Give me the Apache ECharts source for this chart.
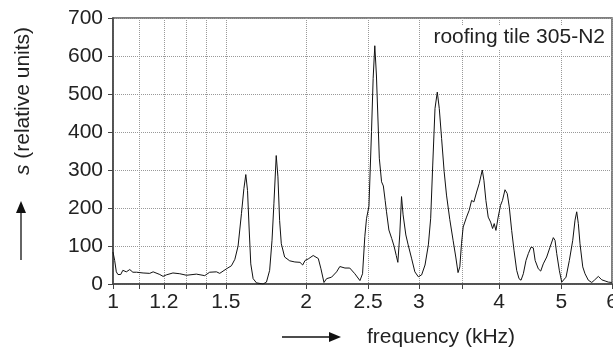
<!DOCTYPE html>
<html>
<head>
<meta charset="utf-8">
<script src="https://cdn.jsdelivr.net/npm/echarts@6/dist/echarts.min.js"></script>
<style>
  html, body { margin: 0; padding: 0; background: #fff; }
  #chart { width: 613px; height: 349px; }
</style>
</head>
<body>
<div id="chart"></div>
<script>
// frequency in kHz
const freq = [
  1.000, 1.006, 1.012, 1.018, 1.028, 1.036, 1.049, 1.062, 1.074, 1.088,
  1.114, 1.141, 1.155, 1.183, 1.197, 1.211, 1.240, 1.271, 1.302, 1.349,
  1.390, 1.415, 1.450, 1.467, 1.503, 1.530, 1.549, 1.567, 1.586, 1.600,
  1.611, 1.621, 1.630, 1.640, 1.654, 1.674, 1.714, 1.735, 1.755, 1.770,
  1.782, 1.797, 1.808, 1.819, 1.830, 1.852, 1.886, 1.921, 1.957, 1.976,
  1.993, 2.016, 2.052, 2.090, 2.110, 2.133, 2.153, 2.192, 2.232, 2.258,
  2.300, 2.340, 2.383, 2.427, 2.450, 2.470, 2.485, 2.507, 2.530, 2.545,
  2.560, 2.575, 2.602, 2.623, 2.640, 2.657, 2.670, 2.693, 2.720, 2.743,
  2.765, 2.781, 2.800, 2.818, 2.834, 2.862, 2.886, 2.921, 2.956, 2.993,
  3.029, 3.066, 3.103, 3.129, 3.152, 3.178, 3.204, 3.227, 3.254, 3.284,
  3.312, 3.351, 3.391, 3.424, 3.452, 3.474, 3.495, 3.516, 3.559, 3.593,
  3.624, 3.654, 3.690, 3.724, 3.766, 3.788, 3.815, 3.847, 3.880, 3.908,
  3.931, 3.955, 3.987, 4.021, 4.049, 4.086, 4.119, 4.149, 4.185, 4.220,
  4.261, 4.297, 4.328, 4.364, 4.406, 4.443, 4.486, 4.523, 4.553, 4.605,
  4.645, 4.688, 4.746, 4.803, 4.860, 4.890, 4.920, 4.966, 5.009, 5.038,
  5.087, 5.148, 5.211, 5.254, 5.286, 5.317, 5.349, 5.402, 5.446, 5.511,
  5.579, 5.632, 5.713, 5.783, 5.853, 5.922, 5.995
];
// s (relative units)
const amp = [
  84, 62, 32, 25, 25, 36, 32, 38, 31, 31,
  29, 28, 32, 25, 20, 24, 29, 27, 23, 26,
  22, 31, 32, 28, 40, 48, 65, 100, 185, 251,
  288, 246, 150, 53, 14, 3, 0, 5, 36, 115,
  211, 338, 282, 167, 106, 71, 61, 58, 57, 50,
  62, 66, 75, 67, 40, 4, 14, 18, 32, 46,
  42, 42, 27, 9, 27, 125, 172, 205, 401, 541,
  627, 550, 331, 269, 258, 220, 190, 142, 120, 100,
  75, 57, 129, 230, 182, 129, 103, 68, 32, 19,
  24, 50, 103, 173, 313, 462, 505, 462, 383, 296,
  234, 170, 115, 71, 30, 45, 106, 150, 176, 194,
  220, 216, 242, 264, 300, 273, 220, 176, 163, 146,
  159, 141, 176, 207, 220, 248, 238, 203, 141, 89,
  36, 14, 10, 27, 62, 80, 97, 95, 62, 40,
  34, 53, 71, 97, 122, 115, 80, 36, 5, 3,
  18, 62, 115, 168, 190, 159, 106, 45, 27, 10,
  4, 10, 20, 11, 8, 5, 4
];

const xTicks = [1, 1.1, 1.2, 1.3, 1.4, 1.5, 2, 2.5, 3, 3.5, 4, 5, 6];
const xLabels = [1, 1.2, 1.5, 2, 2.5, 3, 4, 5, 6];

const chart = echarts.init(document.getElementById('chart'), null, { renderer: 'canvas' });

const FONT = 'Liberation Sans, Arial, sans-serif';
const TXT = '#222';
const FS = 21;

const option = {
  animation: false,
  backgroundColor: '#fff',
  textStyle: { fontFamily: FONT },
  grid: {
    left: 113, right: 1, top: 18, bottom: 65,
    outerBoundsMode: 'none',
    containLabel: false,
    show: true, borderColor: '#555', borderWidth: 1.5, backgroundColor: 'transparent'
  },
  xAxis: {
    type: 'log',
    logBase: 10,
    min: 1,
    max: 6,
    axisLine: { show: true, lineStyle: { color: '#444', width: 1.5 } },
    axisTick: { show: true, length: 5, customValues: xTicks, lineStyle: { color: '#444' } },
    axisLabel: {
      customValues: xLabels,
      fontSize: FS, color: TXT, margin: 8, fontFamily: FONT,
      showMaxLabel: true, showMinLabel: true, hideOverlap: false
    },
    splitLine: { show: true, lineStyle: { color: '#999', type: 'dotted', width: 1 } },
    minorTick: { show: false }
  },
  yAxis: {
    type: 'value',
    min: 0,
    max: 700,
    interval: 100,
    axisLine: { show: true, lineStyle: { color: '#444', width: 1.5 } },
    axisTick: { show: true, length: 5, lineStyle: { color: '#444' } },
    axisLabel: { fontSize: FS, color: TXT, margin: 10, fontFamily: FONT },
    splitLine: { show: true, lineStyle: { color: '#999', type: 'dotted', width: 1 } }
  },
  graphic: [
    {
      type: 'text', right: 6, top: 26, z: 10,
      style: {
        text: 'roofing tile 305-N2', fontSize: FS, fontFamily: FONT, fill: TXT,
        backgroundColor: '#fff', padding: [1, 2]
      }
    },
    {
      type: 'text', x: 23, y: 101, rotation: Math.PI / 2,
      style: {
        text: '{i|s} (relative units)', fontSize: FS, fontFamily: FONT, fill: TXT,
        align: 'center', verticalAlign: 'middle',
        rich: { i: { fontStyle: 'italic', fontSize: FS, fontFamily: FONT, fill: TXT } }
      }
    },
    {
      type: 'line', shape: { x1: 21, y1: 260, x2: 21, y2: 210 },
      style: { stroke: '#111', lineWidth: 1.3 }
    },
    {
      type: 'polygon', shape: { points: [[21, 201], [16, 213], [26, 213]] },
      style: { fill: '#111' }
    },
    {
      type: 'text', x: 441, y: 337,
      style: {
        text: 'frequency (kHz)', fontSize: FS, fontFamily: FONT, fill: TXT,
        align: 'center', verticalAlign: 'middle'
      }
    },
    {
      type: 'line', shape: { x1: 282, y1: 337, x2: 332, y2: 337 },
      style: { stroke: '#111', lineWidth: 1.3 }
    },
    {
      type: 'polygon', shape: { points: [[341, 337], [329, 332], [329, 342]] },
      style: { fill: '#111' }
    }
  ],
  series: [
    {
      type: 'line',
      data: freq.map((f, i) => [f, amp[i]]),
      showSymbol: false,
      symbol: 'none',
      smooth: false,
      lineStyle: { color: '#111', width: 1 },
      clip: true
    }
  ]
};

chart.setOption(option);
</script>
</body>
</html>
